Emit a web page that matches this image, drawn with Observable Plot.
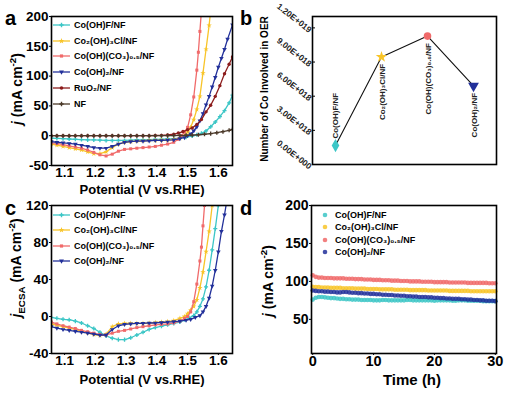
<!DOCTYPE html>
<html><head><meta charset="utf-8">
<script src="https://cdn.jsdelivr.net/npm/d3@7"></script>
<script src="https://cdn.jsdelivr.net/npm/@observablehq/plot@0.6"></script>
<style>
body{margin:0;background:#fff;}
#fig{position:relative;width:515px;height:393px;overflow:hidden;font-family:"Liberation Sans",Arial,Helvetica,sans-serif;color:#000;}
.panel{position:absolute;}
.txt{position:absolute;font-weight:bold;white-space:nowrap;line-height:1;}
.rot{position:absolute;font-weight:bold;white-space:nowrap;line-height:1;transform:translate(-50%,-50%) rotate(-90deg);}
.ctr{position:absolute;font-weight:bold;white-space:nowrap;line-height:1;transform:translate(-50%,-50%);}
.leg{position:absolute;font-weight:bold;font-size:9px;white-space:nowrap;line-height:12px;height:12px;display:flex;align-items:center;}
.leg svg{margin-right:3px;}
sup,sub{font-size:70%;line-height:0;}
</style></head><body><div id="fig"></div>
<script>
// ---------- colours ----------
const cCyan = "#3cc6c6", cYellow = "#f8c428", cRed = "#f06a6a", cBlue = "#22309a", cDark = "#8c1c1c", cNF = "#4a3828";

// ---------- names ----------
const names = ["Co(OH)F/NF", "Co₂(OH)₃Cl/NF", "Co(OH)(CO₃)₀.₅/NF", "Co(OH)₂/NF", "RuO₂/NF", "NF"];

// ---------- panel a : LSV curves [V, j] ----------
const a_CoOHF = [[1.057,-4],[1.075,-4.5],[1.095,-5],[1.115,-5.5],[1.135,-6],[1.155,-6.5],[1.175,-7],[1.195,-7],[1.215,-7.5],[1.235,-8],[1.255,-8],[1.275,-8],[1.295,-8],[1.315,-7.5],[1.335,-7],[1.355,-7],[1.375,-6.5],[1.395,-6],[1.415,-6],[1.435,-5.5],[1.455,-5],[1.475,-4],[1.495,-2.5],[1.515,-0.5],[1.53,1.5],[1.545,4],[1.56,8],[1.575,15],[1.59,23],[1.605,32],[1.62,42],[1.635,55],[1.646,68]];
const a_Co2Cl = [[1.057,-14],[1.075,-16],[1.095,-18],[1.115,-20],[1.135,-22],[1.155,-24],[1.175,-27],[1.195,-30],[1.215,-30],[1.235,-27],[1.255,-20],[1.275,-14],[1.295,-11],[1.315,-10],[1.335,-9],[1.355,-8.5],[1.375,-8],[1.395,-8],[1.415,-7.5],[1.435,-7],[1.455,-6],[1.475,-4],[1.49,0],[1.50,6],[1.51,14],[1.52,27],[1.53,44],[1.54,66],[1.55,105],[1.56,145],[1.57,185],[1.575,210]];
const a_CoCO3 = [[1.057,-12],[1.075,-13],[1.095,-15],[1.115,-17],[1.135,-19],[1.155,-21],[1.175,-24],[1.195,-28],[1.215,-32],[1.235,-34],[1.255,-31],[1.275,-26],[1.295,-23],[1.315,-22],[1.335,-21],[1.355,-20],[1.375,-19],[1.395,-18],[1.415,-16],[1.435,-14],[1.455,-11],[1.47,-6],[1.48,0],[1.49,6],[1.50,14],[1.51,35],[1.52,65],[1.53,110],[1.535,140],[1.54,175],[1.545,210]];
const a_CoOH2 = [[1.057,-10],[1.075,-11],[1.095,-12],[1.115,-13],[1.135,-14],[1.155,-16],[1.175,-18],[1.195,-20],[1.215,-21],[1.235,-21],[1.255,-18],[1.275,-14],[1.295,-11],[1.315,-10],[1.335,-9],[1.355,-9],[1.375,-8.5],[1.395,-8],[1.415,-8],[1.435,-7.5],[1.455,-7],[1.475,-5],[1.49,-3],[1.50,0],[1.51,3],[1.52,8],[1.53,15],[1.54,25],[1.55,37],[1.56,52],[1.57,66],[1.58,82],[1.59,98],[1.60,115],[1.61,130],[1.62,145],[1.63,162],[1.646,186]];
const a_RuO2 = [[1.057,0],[1.075,0],[1.095,0],[1.115,0],[1.135,0],[1.155,0],[1.175,0],[1.195,0],[1.215,0],[1.235,0],[1.255,0],[1.275,0],[1.295,0],[1.315,0],[1.335,0],[1.355,0],[1.375,0],[1.395,0.3],[1.415,0.6],[1.435,1.2],[1.455,2.5],[1.47,4.5],[1.485,7],[1.50,10],[1.515,13],[1.53,19],[1.545,27],[1.56,40],[1.575,51],[1.59,66],[1.605,84],[1.62,104],[1.635,120],[1.646,132]];
const a_NF = [[1.057,0],[1.075,0],[1.095,0],[1.115,0],[1.135,0],[1.155,0],[1.175,0],[1.195,0],[1.215,0],[1.235,0],[1.255,0],[1.275,0],[1.295,0],[1.315,0],[1.335,0],[1.355,0],[1.375,0],[1.395,0],[1.415,0],[1.435,0.1],[1.455,0.2],[1.475,0.4],[1.495,0.7],[1.515,1],[1.535,1.6],[1.555,2.4],[1.575,3.5],[1.595,5],[1.615,6.8],[1.635,9],[1.646,10.5]];

// ---------- panel b : number of Co involved ----------
const bNames = ["Co(OH)F/NF", "Co₂(OH)₃Cl/NF", "Co(OH)(CO₃)₀.₅/NF", "Co(OH)₂/NF"];
const bValues = [1.66e18, 9.45e18, 1.128e19, 6.9e18];
const bTicks = [0, 3e18, 6e18, 9e18, 1.2e19];

// ---------- panel c : ECSA-normalised LSV [V, j] ----------
const c_CoOHF = [[1.057,-1],[1.075,-2],[1.095,-3],[1.115,-3.5],[1.135,-5],[1.155,-7],[1.175,-10],[1.195,-13],[1.215,-17],[1.235,-21],[1.255,-23.5],[1.275,-25],[1.295,-25],[1.315,-23],[1.335,-20],[1.355,-17],[1.375,-14],[1.395,-12],[1.415,-10.5],[1.435,-9],[1.455,-7.5],[1.475,-6],[1.49,-3.5],[1.505,-1.5],[1.52,1],[1.53,5],[1.54,11],[1.55,19],[1.56,32],[1.57,50],[1.58,72],[1.59,95],[1.60,120],[1.605,132]];
const c_Co2Cl = [[1.057,-8],[1.075,-9.5],[1.095,-11],[1.115,-12.5],[1.135,-14],[1.155,-16],[1.175,-17.5],[1.195,-19.5],[1.215,-20.5],[1.235,-19],[1.255,-11],[1.275,-8],[1.295,-7.5],[1.315,-7.5],[1.335,-7.5],[1.355,-7.5],[1.375,-7],[1.395,-6.5],[1.415,-6],[1.435,-5.5],[1.455,-4.5],[1.475,-2],[1.49,0],[1.50,3],[1.51,7],[1.52,11],[1.53,18],[1.54,31],[1.55,48],[1.56,70],[1.57,92],[1.58,120],[1.585,132]];
const c_CoCO3 = [[1.057,-6],[1.075,-8],[1.095,-10],[1.115,-11.5],[1.135,-13],[1.155,-15],[1.175,-16.5],[1.195,-18],[1.215,-19.5],[1.235,-20],[1.255,-18],[1.275,-16],[1.295,-15],[1.315,-13.5],[1.335,-12],[1.355,-11],[1.375,-10],[1.395,-9],[1.415,-8.5],[1.435,-8],[1.455,-7],[1.475,-5],[1.49,-2],[1.50,0],[1.51,5],[1.52,16],[1.53,35],[1.54,60],[1.545,75],[1.55,98],[1.555,120],[1.56,135]];
const c_CoOH2 = [[1.057,-11],[1.075,-12.5],[1.095,-14],[1.115,-15],[1.135,-16],[1.155,-17],[1.175,-18],[1.195,-19],[1.215,-20],[1.235,-20],[1.255,-14],[1.275,-10],[1.295,-8.5],[1.315,-8],[1.335,-7.5],[1.355,-7.5],[1.375,-7],[1.395,-7],[1.415,-6.5],[1.435,-6],[1.455,-5.5],[1.475,-5],[1.495,-4],[1.51,-3],[1.525,-1],[1.54,1],[1.55,5],[1.56,11],[1.57,20],[1.58,33],[1.59,50],[1.60,70],[1.61,92],[1.62,110],[1.63,130]];

// ---------- panel d : chronopotentiometry ----------
const dTime = [0,0.5,1,1.5,2,2.5,3,3.5,4,4.5,5,5.5,6,6.5,7,7.5,8,8.5,9,9.5,10,10.5,11,11.5,12,12.5,13,13.5,14,14.5,15,15.5,16,16.5,17,17.5,18,18.5,19,19.5,20,20.5,21,21.5,22,22.5,23,23.5,24,24.5,25,25.5,26,26.5,27,27.5,28,28.5,29,29.5,30];
const d_CoOHF = [76,78.5,79.5,79.5,79,78.5,78,78,77.5,77,77,76.5,76.5,76,76,76,75.5,75.5,75.5,75.5,75,75,75,75.5,75.5,75,75,75,75,75,75,75.5,75.5,75,75,75,75,75,75,75,74.5,75,75,75,75,75,74.5,74.5,75,75,75,74.5,74.5,74.5,74.5,74.5,74,74,74,74,74];
const d_Co2Cl = [93,92.5,92.5,92,92,92,91.5,91.5,91.5,91.5,91,91,91,91,90.5,90.5,90.5,90.5,90,90,90,90,89.5,89.5,89.5,89.5,89.5,89,89,89,89,89,88.5,88.5,88.5,88.5,88.5,88.5,88,88,88,88,88,88,88,87.5,87.5,87.5,87.5,87.5,87.5,87.5,87,87,87,87,87,87,87,87,87];
const d_CoCO3 = [108,106,105,105,104.5,104.5,104.5,104,104,104,104,103.5,103.5,103.5,103,103,103,102.5,102.5,102.5,102,102,102,101.5,101.5,101.5,101,101,101,100.5,100.5,100.5,100,100,100,100,99.5,99.5,99.5,99.5,99,99,99,99,99,98.5,98.5,98.5,98.5,98.5,98.5,98,98,98,98,98,98,98,97.5,97.5,97.5];
const d_CoOH2 = [88,87.5,87,87,86.5,86.5,86,86,85.5,85.5,86,86,85.5,85,85,84.5,84.5,84,84,83.5,83.5,83,83,82.5,82.5,82,82,81.5,81.5,81,81,80.5,80.5,80,80,79.5,79.5,79.5,79,79,78.5,78.5,78,78,77.5,77.5,77,77,77,76.5,76.5,76,76,75.5,75.5,75,75,74.5,74.5,74.5,74];

// ---------- ticks ----------
const ticksV = [1.1, 1.2, 1.3, 1.4, 1.5, 1.6];
const ticksA = [-50, 0, 50, 100, 150, 200];
const ticksC = [-40, 0, 40, 80, 120];
const ticksDx = [0, 10, 20, 30];
const ticksDy = [50, 100, 150, 200];

const FONT = '"Liberation Sans", Arial, Helvetica, sans-serif';
const fig = document.getElementById("fig");

function place(svg, left, top) {
  const div = document.createElement("div");
  div.className = "panel"; div.style.left = left + "px"; div.style.top = top + "px";
  div.appendChild(svg); fig.appendChild(div);
}
function addText(html, cls, x, y, size, extra) {
  const el = document.createElement("div");
  el.className = cls; el.innerHTML = html;
  el.style.left = x + "px"; el.style.top = y + "px"; el.style.fontSize = size + "px";
  if (extra) Object.assign(el.style, extra);
  fig.appendChild(el);
}
const symMap = {circle: d3.symbolCircle, cross: d3.symbolCross, square: d3.symbolSquare, star: d3.symbolStar, triangle: d3.symbolTriangle, diamond: d3.symbolDiamond};
function addLegend(items, x, y0, dy, withLine, r) {
  items.forEach((it, i) => {
    const row = document.createElement("div");
    row.className = "leg";
    row.style.left = x + "px"; row.style.top = (y0 + i * dy - 6) + "px";
    const w = withLine ? 18 : 12;
    const s = d3.create("svg").attr("width", w).attr("height", 12);
    if (withLine) s.append("line").attr("x1", 0).attr("x2", 17).attr("y1", 6).attr("y2", 6).attr("stroke", it.color).attr("stroke-width", 1.3);
    s.append("path").attr("d", d3.symbol(symMap[it.symbol], Math.PI * r * r)())
      .attr("transform", `translate(${withLine ? 8.5 : 5},6) rotate(${it.rotate || 0})`).attr("fill", it.color).attr("fill-opacity", it.op || 1);
    row.appendChild(s.node());
    const sp = document.createElement("span"); sp.textContent = it.name; row.appendChild(sp);
    fig.appendChild(row);
  });
}
const baseStyle = (fs) => ({fontFamily: FONT, fontSize: fs + "px", fontWeight: "bold", background: "transparent", overflow: "visible", color: "#000"});

function curveMarks(series) {
  return series.flatMap(s => [
    Plot.line(s.data, {x: d => d[0], y: d => d[1], stroke: s.color, strokeWidth: 1.3, clip: true}),
    Plot.dot(s.data, {x: d => d[0], y: d => d[1], symbol: s.symbol, r: 1.7, fill: s.color, stroke: "none", rotate: s.rotate || 0, clip: true})
  ]);
}
function axes(tx, ty, fmtX, fmtY) {
  return [
    Plot.axisX(tx, {tickSize: 2, tickPadding: 0, tickFormat: fmtX, label: null}),
    Plot.axisY(ty, {tickSize: 2, tickPadding: 1, tickFormat: fmtY, label: null})
  ];
}

// ================= panel a =================
const seriesA = [
  {data: a_CoOHF, color: cCyan, symbol: "cross"},
  {data: a_Co2Cl, color: cYellow, symbol: "star"},
  {data: a_CoCO3, color: cRed, symbol: "square"},
  {data: a_CoOH2, color: cBlue, symbol: "triangle", rotate: 180},
  {data: a_RuO2, color: cDark, symbol: "circle"},
  {data: a_NF, color: cNF, symbol: "cross"}
];
const plotA = Plot.plot({
  width: 257, height: 195, marginLeft: 51, marginRight: 25, marginTop: 16, marginBottom: 30,
  x: {domain: [1.0575, 1.646], label: null},
  y: {domain: [-50, 200], label: null},
  style: baseStyle(13.5),
  marks: [...curveMarks(seriesA), ...axes(ticksV, ticksA, d => d.toFixed(1), d => String(d)), Plot.frame({stroke: "#000", strokeWidth: 1.6})]
});
place(plotA, 0, 0);

// ================= panel b =================
const bSymbols = ["diamond", "star", "circle", "triangle"];
const bColors = [cCyan, cYellow, cRed, cBlue];
const bRot = [0, 0, 0, 180];
const bR = [4, 3.6, 3.8, 4];
const fmtE = d => {
  if (d === 0) return "0.00E+000";
  const e = Math.floor(Math.log10(d) + 1e-9);
  return (d / Math.pow(10, e)).toFixed(2) + "E+" + String(e).padStart(3, "0");
};
const plotB = Plot.plot({
  width: 258, height: 195, marginLeft: 55, marginRight: 19, marginTop: 16, marginBottom: 31,
  x: {type: "point", domain: bNames, padding: 0.5, label: null, axis: null},
  y: {domain: [0, 1.3e19], label: null, axis: null},
  style: baseStyle(8),
  marks: [
    Plot.axisY(bTicks, {tickSize: 3, dx: 3, text: null, label: null}),
    Plot.text(bTicks, {y: d => d, frameAnchor: "left", text: fmtE, rotate: 38, textAnchor: "end", dx: -2, dy: 3, fontSize: 8.5, fontWeight: "bold", fill: "#222"}),
    Plot.line(bNames, {x: d => d, y: (d, i) => bValues[i], stroke: "#111", strokeWidth: 1.1}),
    ...bNames.map((n, i) => Plot.dot([n], {x: d => d, y: () => bValues[i], symbol: bSymbols[i], r: bR[i], fill: bColors[i], rotate: bRot[i]})),
    Plot.text([bNames[0]], {x: d => d, y: () => bValues[0], text: d => d, rotate: -90, textAnchor: "start", dy: -7, fontWeight: "bold", fontSize: 8, fill: "#222"}),
    Plot.text(bNames.slice(1), {x: d => d, y: (d, i) => bValues[i + 1], text: d => d, rotate: -90, textAnchor: "end", dy: 7, dx: 1, fontWeight: "bold", fontSize: 8, fill: "#222"}),
    Plot.frame({stroke: "#000", strokeWidth: 1.6})
  ]
});
place(plotB, 257, 0);

// ================= panel c =================
const seriesC = [
  {data: c_CoOHF, color: cCyan, symbol: "cross"},
  {data: c_Co2Cl, color: cYellow, symbol: "star"},
  {data: c_CoCO3, color: cRed, symbol: "square"},
  {data: c_CoOH2, color: cBlue, symbol: "triangle", rotate: 180}
];
const plotC = Plot.plot({
  width: 257, height: 203, marginLeft: 51, marginRight: 25, marginTop: 15, marginBottom: 40,
  x: {domain: [1.0575, 1.646], label: null},
  y: {domain: [-40, 120], label: null},
  style: baseStyle(13.5),
  marks: [...curveMarks(seriesC), ...axes(ticksV, ticksC, d => d.toFixed(1), d => String(d)), Plot.frame({stroke: "#000", strokeWidth: 1.6})]
});
place(plotC, 0, 190);

// ================= panel d =================
const seriesD = [
  {vals: d_CoOHF, color: cCyan},
  {vals: d_Co2Cl, color: cYellow},
  {vals: d_CoCO3, color: cRed},
  {vals: d_CoOH2, color: cBlue}
];
const plotD = Plot.plot({
  width: 258, height: 203, marginLeft: 54, marginRight: 19, marginTop: 15, marginBottom: 40,
  x: {domain: [-0.2, 30.2], label: null},
  y: {domain: [5, 200], label: null},
  style: baseStyle(14),
  marks: [
    ...seriesD.map(s => Plot.dot(dTime, {x: d => d, y: (d, i) => s.vals[i], r: 2.3, fill: s.color, fillOpacity: 0.85, stroke: "none"})),
    Plot.axisX(ticksDx, {tickSize: 2, tickPadding: 0, label: null, fontSize: 14.5}),
    Plot.axisY(ticksDy, {tickSize: 2, tickPadding: 1, label: null}),
    Plot.frame({stroke: "#000", strokeWidth: 1.6})
  ]
});
place(plotD, 257, 190);

// ================= text: panel letters, axis titles, legends =================
addText("a", "txt", 5, 8, 20);
addText("b", "txt", 240, 8, 20);
addText("c", "txt", 5, 198, 20);
addText("d", "txt", 240, 198, 20);

addText("<i>j</i> (mA cm<sup>-2</sup>)", "rot", 17, 89, 14);
addText("Potential (V vs.RHE)", "ctr", 142, 189, 13);
addText("Number of Co Involved in OER", "rot", 265, 89, 10);
addText("<i>j</i><sub>ECSA</sub> (mA cm<sup>-2</sup>)", "rot", 16, 268, 14);
addText("Potential (V vs.RHE)", "ctr", 142, 379, 13);
addText("<i>j</i> (mA cm<sup>-2</sup>)", "rot", 268, 281, 14);
addText("Time (h)", "ctr", 412, 379, 15);

addLegend([
  {name: names[0], color: cCyan, symbol: "cross"},
  {name: names[1], color: cYellow, symbol: "star"},
  {name: names[2], color: cRed, symbol: "square"},
  {name: names[3], color: cBlue, symbol: "triangle", rotate: 180},
  {name: names[4], color: cDark, symbol: "circle"},
  {name: names[5], color: cNF, symbol: "cross"}
], 53, 25, 15.7, true, 1.8);
addLegend([
  {name: names[0], color: cCyan, symbol: "cross"},
  {name: names[1], color: cYellow, symbol: "star"},
  {name: names[2], color: cRed, symbol: "square"},
  {name: names[3], color: cBlue, symbol: "triangle", rotate: 180}
], 53, 215, 15.3, true, 1.8);
addLegend([
  {name: names[0], color: cCyan, symbol: "circle", op: 0.85},
  {name: names[1], color: cYellow, symbol: "circle", op: 0.85},
  {name: names[2], color: cRed, symbol: "circle", op: 0.85},
  {name: names[3], color: cBlue, symbol: "circle", op: 0.85}
], 320, 215, 12.4, false, 2.3);
</script></body></html>
